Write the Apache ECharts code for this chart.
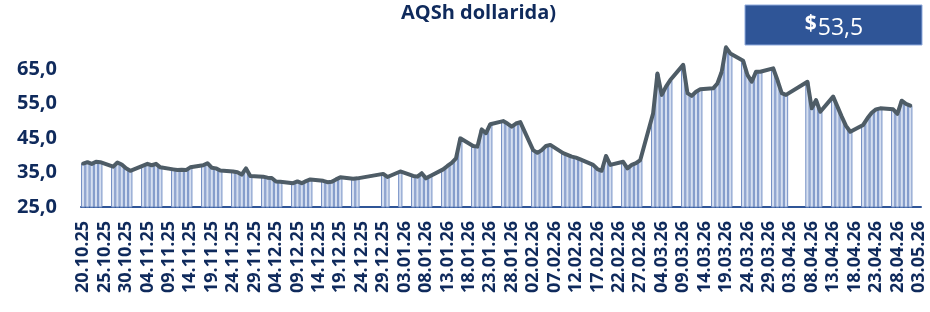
<!DOCTYPE html>
<html>
<head>
<meta charset="utf-8">
<script src="https://cdn.jsdelivr.net/npm/echarts@6/dist/echarts.min.js"></script>
<style>
  html, body { margin: 0; padding: 0; background: #fff; }
  #chart { width: 930px; height: 312px; }
</style>
</head>
<body>
<div id="chart"></div>
<script>
// calendar range of the axis (one category per day)
const firstDay = [2025, 10, 20]
const lastDay = [2026, 5, 3]
// weekdays without a price
const closedDays = ['24.12.25', '25.12.25', '26.12.25', '31.12.25', '01.01.26', '03.04.26', '06.04.26']
// price per trading day, one row per week (Mon..Fri)
const prices = [
  37.6, 38.0, 37.5, 38.1, 38.0,
  36.7, 37.9, 37.3, 36.2, 35.5,
  37.0, 37.5, 37.1, 37.5, 36.5,
  35.9, 35.7, 35.8, 35.7, 36.5,
  37.1, 37.7, 36.4, 36.2, 35.6,
  35.3, 35.1, 34.4, 36.2, 34.0,
  33.8, 33.5, 33.4, 32.4, 32.3,
  31.9, 32.4, 31.9, 32.5, 33.0,
  32.6, 32.2, 32.3, 33.0, 33.6,
  33.2, 33.3,
  34.6, 33.7, 35.3,
  34.0, 33.8, 34.8, 33.3, 34.0,
  35.9, 36.9, 37.8, 39.1, 44.9,
  42.7, 42.5, 47.5, 46.4, 49.0,
  49.9, 49.2, 48.3, 49.2, 49.6,
  41.5, 40.7, 41.5, 42.7, 43.0,
  40.6, 40.1, 39.6, 39.3, 38.8,
  37.2, 36.0, 35.5, 39.8, 37.2,
  38.1, 36.2, 37.2, 37.7, 38.6,
  52.2, 63.7, 57.5, 59.9, 61.8,
  66.2, 58.0, 57.2, 58.4, 59.1,
  59.4, 60.8, 64.2, 71.3, 69.5,
  67.4, 63.3, 61.3, 64.2, 64.2,
  65.2, 61.8, 58.0, 57.5,
  61.3, 53.6, 56.0, 52.6,
  57.0, 54.1, 51.2, 48.5, 46.8,
  48.8, 50.7, 52.3, 53.3, 53.6,
  53.3, 52.0, 55.8, 54.9, 54.4
]
const yTicks = [25, 35, 45, 55, 65]
const titleText = 'AQSh dollarida)'
const boxCurrency = '$'
const boxValue = '53,5'

const pad = n => (n < 10 ? '0' : '') + n
const fmt = d => pad(d.getDate()) + '.' + pad(d.getMonth() + 1) + '.' + String(d.getFullYear()).slice(2)

const days = []
const barData = []
let k = 0
const d = new Date(firstDay[0], firstDay[1] - 1, firstDay[2])
const end = new Date(lastDay[0], lastDay[1] - 1, lastDay[2])
while (d <= end) {
  const label = fmt(d)
  days.push(label)
  const wd = d.getDay()
  if (wd !== 0 && wd !== 6 && closedDays.indexOf(label) < 0) {
    barData.push(prices[k++])
  } else {
    barData.push('-')
  }
  d.setDate(d.getDate() + 1)
}

const navy = '#0f2a5c'
const chart = echarts.init(document.getElementById('chart'))
const option = {
  animation: false,
  grid: { left: 81, right: 9, top: 34.5, bottom: 105, containLabel: false, outerBoundsMode: 'none' },
  xAxis: {
    type: 'category',
    data: days,
    boundaryGap: true,
    axisLine: { lineStyle: { color: '#2f5597', width: 2 } },
    axisTick: { interval: 4, length: 6, lineStyle: { color: '#2f5597', width: 2 } },
    axisLabel: {
      interval: 4,
      rotate: 90,
      margin: 14,
      color: navy,
      fontFamily: 'Open Sans',
      fontWeight: 'bold',
      fontSize: 18
    }
  },
  yAxis: {
    type: 'value',
    min: 25,
    max: 75,
    interval: 10,
    axisLine: { show: false },
    axisTick: { show: false },
    splitLine: { show: false },
    axisLabel: {
      margin: 24,
      color: navy,
      fontFamily: 'Open Sans',
      fontWeight: 'bold',
      fontSize: 20,
      formatter: v => (yTicks.indexOf(v) >= 0 ? v.toFixed(1).replace('.', ',') : '')
    }
  },
  series: [
    {
      type: 'bar',
      data: barData,
      barCategoryGap: '0%',
      itemStyle: { color: '#d6dff0', borderColor: '#7590c5', borderWidth: 1 },
      z: 2
    },
    {
      type: 'line',
      data: barData,
      connectNulls: true,
      showSymbol: false,
      symbol: 'none',
      lineStyle: { color: '#4e5c66', width: 4, join: 'round', cap: 'round' },
      z: 3
    }
  ],
  graphic: [
    {
      type: 'text',
      left: 401,
      top: 3,
      style: { text: titleText, fill: navy, font: 'bold 20px "Open Sans"' }
    },
    {
      type: 'rect',
      shape: { x: 745, y: 5, width: 177, height: 40 },
      style: { fill: '#2f5597', stroke: '#8faadc', lineWidth: 1 }
    },
    {
      type: 'text',
      x: 834,
      y: 28,
      style: {
        text: '{c|' + boxCurrency + '}{v|' + boxValue + '}',
        align: 'center',
        verticalAlign: 'middle',
        rich: {
          c: { fill: '#fff', fontFamily: 'Open Sans', fontWeight: 'bold', fontSize: 21, padding: [0, 1, 7, 0] },
          v: { fill: '#fff', fontFamily: 'Open Sans', fontSize: 23 }
        }
      }
    }
  ]
}
chart.setOption(option)
</script>
</body>
</html>
